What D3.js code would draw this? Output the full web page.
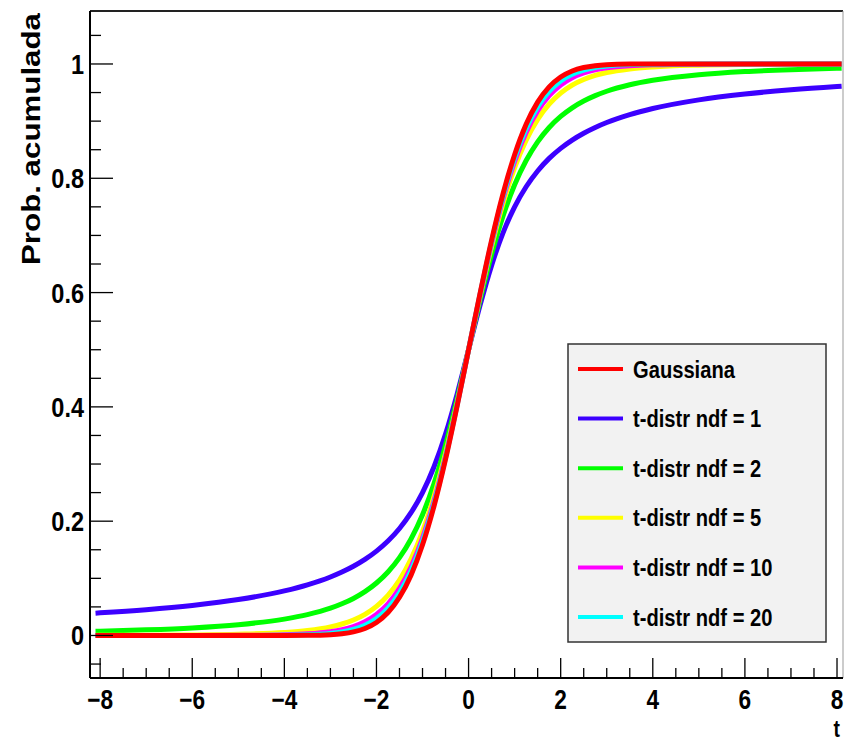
<!DOCTYPE html>
<html>
<head>
<meta charset="utf-8">
<script src="https://cdn.jsdelivr.net/npm/d3@7"></script>
<style>
  html, body { margin: 0; padding: 0; background: #fff; }
  svg { display: block; }
  text { font-family: "Liberation Sans", Arial, Helvetica, sans-serif; font-weight: bold; fill: #000; }
</style>
</head>
<body>
<script>
// ---- data ----
const tValues = [-8.1, -8, -7, -6, -5, -4, -3.5, -3, -2.75, -2.5, -2.25, -2, -1.75, -1.5, -1.25, -1, -0.75, -0.5, -0.25, 0,
  0.25, 0.5, 0.75, 1, 1.25, 1.5, 1.75, 2, 2.25, 2.5, 2.75, 3, 3.5, 4, 5, 6, 7, 8, 8.1];

const gaussiana = [0, 0, 0, 0, 0, 0.00003, 0.00023, 0.00135, 0.0030, 0.0062, 0.0122, 0.0228, 0.0401, 0.0668, 0.1056, 0.1587, 0.2266, 0.3085, 0.4013, 0.5,
  0.5987, 0.6915, 0.7734, 0.8413, 0.8944, 0.9332, 0.9599, 0.9772, 0.9878, 0.9938, 0.9970, 0.99865, 0.99977, 0.99997, 1, 1, 1, 1, 1];

const tdistr1 = [0.0391, 0.0396, 0.0452, 0.0526, 0.0628, 0.0780, 0.0886, 0.1024, 0.1110, 0.1211, 0.1331, 0.1476, 0.1652, 0.1872, 0.2148, 0.25, 0.2952, 0.3524, 0.4220, 0.5,
  0.5780, 0.6476, 0.7048, 0.75, 0.7852, 0.8128, 0.8348, 0.8524, 0.8669, 0.8789, 0.8890, 0.8976, 0.9114, 0.9220, 0.9372, 0.9474, 0.9548, 0.9604, 0.9609];

const tdistr2 = [0.0074, 0.0076, 0.0099, 0.0133, 0.0189, 0.0286, 0.0364, 0.0477, 0.0554, 0.0648, 0.0767, 0.0918, 0.1111, 0.1362, 0.1689, 0.2113, 0.2657, 0.3333, 0.4130, 0.5,
  0.5870, 0.6667, 0.7343, 0.7887, 0.8311, 0.8638, 0.8889, 0.9082, 0.9233, 0.9352, 0.9446, 0.9523, 0.9636, 0.9714, 0.9811, 0.9867, 0.9901, 0.9924, 0.9926];

const tdistr5 = [0.00024, 0.00025, 0.00045, 0.0009, 0.0021, 0.0052, 0.0087, 0.0150, 0.0201, 0.0272, 0.0370, 0.0510, 0.0703, 0.0970, 0.1335, 0.1816, 0.2434, 0.3191, 0.4063, 0.5,
  0.5937, 0.6809, 0.7566, 0.8184, 0.8665, 0.9030, 0.9297, 0.9490, 0.9630, 0.9728, 0.9799, 0.9850, 0.9913, 0.9948, 0.9979, 0.9991, 0.99955, 0.99975, 0.99976];

const tdistr10 = [0.00001, 0.00001, 0.00002, 0.00007, 0.00027, 0.0013, 0.0029, 0.0067, 0.0102, 0.0157, 0.0241, 0.0367, 0.0553, 0.0823, 0.1199, 0.1704, 0.2353, 0.3140, 0.4038, 0.5,
  0.5962, 0.6860, 0.7647, 0.8296, 0.8801, 0.9177, 0.9447, 0.9633, 0.9759, 0.9843, 0.9898, 0.9933, 0.9971, 0.9987, 0.99973, 0.99993, 0.99998, 0.99999, 0.99999];

const tdistr20 = [0, 0, 0, 0.00001, 0.00003, 0.0004, 0.0011, 0.0035, 0.0061, 0.0106, 0.0180, 0.0296, 0.0478, 0.0746, 0.1128, 0.1646, 0.2310, 0.3113, 0.4026, 0.5,
  0.5974, 0.6887, 0.7690, 0.8354, 0.8872, 0.9254, 0.9522, 0.9704, 0.9820, 0.9894, 0.9939, 0.9965, 0.9989, 0.9996, 0.99997, 1, 1, 1, 1];

const seriesNames = ["Gaussiana", "t-distr ndf = 1", "t-distr ndf = 2", "t-distr ndf = 5", "t-distr ndf = 10", "t-distr ndf = 20"];
const seriesValues = [gaussiana, tdistr1, tdistr2, tdistr5, tdistr10, tdistr20];
const seriesColors = ["#ff0000", "#3c00ff", "#00ff00", "#ffff00", "#ff00ff", "#00ffff"];
const drawOrder = [1, 2, 3, 4, 5, 0];

const xTickValues = [-8, -6, -4, -2, 0, 2, 4, 6, 8];
const yTickValues = [0, 0.2, 0.4, 0.6, 0.8, 1];
const xTitle = "t";
const yTitle = "Prob. acumulada";

// ---- layout ----
const W = 845, H = 743;
const fx0 = 90, fx1 = 843, fy0 = 11, fy1 = 678;

const svg = d3.select("body").append("svg").attr("width", W).attr("height", H);

const x = d3.scaleLinear().domain([-8.22, 8.13]).range([fx0, fx1]);
const y = d3.scaleLinear().domain([-0.0744, 1.0927]).range([fy1, fy0]);

// frame
svg.append("line").attr("x1", fx0).attr("x2", fx1).attr("y1", fy0).attr("y2", fy0)
  .attr("stroke", "#222").attr("stroke-width", 2);
svg.append("line").attr("x1", fx1).attr("x2", fx1).attr("y1", fy0).attr("y2", fy1)
  .attr("stroke", "#999").attr("stroke-width", 1);

// curves
const line = d3.line().x(d => x(d[0])).y(d => y(d[1])).curve(d3.curveMonotoneX);
const gCurves = svg.append("g");
drawOrder.forEach(i => {
  const pts = tValues.map((t, k) => [t, seriesValues[i][k]]);
  gCurves.append("path").attr("d", line(pts)).attr("fill", "none")
    .attr("stroke", seriesColors[i]).attr("stroke-width", 5).attr("stroke-linejoin", "round");
});

// axes
const sx = 0.84;
const xMinor = d3.range(-8, 8.01, 0.5);
const yMinor = d3.range(-0.05, 1.0501, 0.05);

const gx = svg.append("g");
gx.append("line").attr("x1", fx0).attr("x2", fx1).attr("y1", fy1).attr("y2", fy1)
  .attr("stroke", "#000").attr("stroke-width", 2);
xMinor.forEach(v => {
  const major = Math.abs(v / 2 - Math.round(v / 2)) < 1e-6;
  gx.append("line").attr("x1", x(v)).attr("x2", x(v)).attr("y1", fy1).attr("y2", fy1 - (major ? 20 : 10))
    .attr("stroke", "#000").attr("stroke-width", 1.3);
});
xTickValues.forEach(v => {
  gx.append("text").attr("transform", `translate(${x(v)},${709}) scale(${sx},1)`)
    .attr("text-anchor", "middle").attr("font-size", 27).text(d3.format("d")(v));
});
gx.append("text").attr("transform", `translate(${840},${737}) scale(${sx},1)`)
  .attr("text-anchor", "end").attr("font-size", 23).text(xTitle);

const gy = svg.append("g");
gy.append("line").attr("x1", fx0).attr("x2", fx0).attr("y1", fy0).attr("y2", fy1)
  .attr("stroke", "#000").attr("stroke-width", 2);
yMinor.forEach(v => {
  const major = Math.abs(v / 0.2 - Math.round(v / 0.2)) < 1e-6;
  gy.append("line").attr("x1", fx0).attr("x2", fx0 + (major ? 23 : 11)).attr("y1", y(v)).attr("y2", y(v))
    .attr("stroke", "#000").attr("stroke-width", 1.3);
});
yTickValues.forEach(v => {
  gy.append("text").attr("transform", `translate(${84},${y(v) + 10}) scale(${sx},1)`)
    .attr("text-anchor", "end").attr("font-size", 28).text(d3.format("~g")(v));
});
gy.append("text").attr("transform", `translate(${40},${13}) rotate(-90)`)
  .attr("text-anchor", "end").attr("font-size", 25)
  .attr("textLength", 252).attr("lengthAdjust", "spacingAndGlyphs").text(yTitle);

// legend
const lg = svg.append("g");
lg.append("rect").attr("x", 568).attr("y", 344).attr("width", 258).attr("height", 298)
  .attr("fill", "#f2f2f2").attr("stroke", "#333").attr("stroke-width", 1.5);
const legendY = d3.scaleLinear().domain([0, 5]).range([369, 617]);
seriesNames.forEach((name, i) => {
  const yy = legendY(i);
  lg.append("line").attr("x1", 578).attr("x2", 623).attr("y1", yy).attr("y2", yy)
    .attr("stroke", seriesColors[i]).attr("stroke-width", 4);
  lg.append("text").attr("transform", `translate(${633},${yy + 8.5}) scale(0.84,1)`)
    .attr("font-size", 24).text(name);
});
</script>
</body>
</html>
